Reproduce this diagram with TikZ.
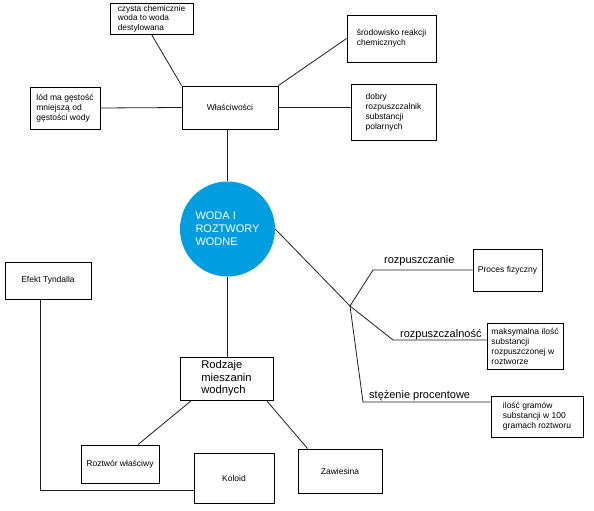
\documentclass[tikz,border=0pt]{standalone}
\usepackage{fontspec}
\setmainfont{Liberation Sans}
\usetikzlibrary{positioning, calc}
\definecolor{wodablue}{RGB}{0,157,224}
\definecolor{linegray}{RGB}{30,30,30}
\tikzset{
  box/.style={rectangle, draw=black, fill=white, line width=0.9pt,
    align=left, inner sep=1pt, font=\fontsize{8.5}{10}\selectfont},
  bigbox/.style={box, font=\fontsize{11.2}{12.5}\selectfont},
  hub/.style={circle, fill=wodablue, text=white, minimum size=95pt,
    inner sep=0pt, align=left, font=\fontsize{11}{13}\selectfont},
  conn/.style={line width=0.8pt, color=linegray},
  lbl/.style={anchor=base west, inner sep=0pt, font=\fontsize{11}{13}\selectfont}
}

\begin{document}
\begin{tikzpicture}[x=1pt, y=-1pt]
  \useasboundingbox (0,0) rectangle (594,511);

  % Centre
  \node[hub] (woda) at (227.5,229) {WODA I\\ROZTWORY\\WODNE};

  % Properties branch
  \node[box, minimum width=96pt, minimum height=43pt] (wlasc) at (230,107.5) {Właściwości};
  \node[box, minimum width=83pt, minimum height=31pt, inner sep=0pt,
    font=\fontsize{8.3}{9.4}\selectfont] (czysta) at (151.5,18.5) {czysta chemicznie\\woda to woda\\destylowana};
  \node[box, minimum width=70pt, minimum height=42pt] (lod) at (65,108) {lód ma gęstość\\mniejszą od\\gęstości wody};
  \node[box, minimum width=89pt, minimum height=47pt] (srod) at (391.5,38.5) {środowisko reakcji\\chemicznych};
  \node[box, minimum width=85pt, minimum height=56pt] (dobry) at (393.5,112) {dobry\\rozpuszczalnik\\substancji\\polarnych};

  % Solution branch
  \coordinate (junc) at (350,306);
  \coordinate (b1) at (373,270);
  \coordinate (b2) at (393,340);
  \coordinate (b3) at (363,402);
  \node[box, minimum width=69pt, minimum height=42pt] (proces) at (507.5,270) {Proces fizyczny};
  \node[box, minimum width=76pt, minimum height=46pt] (maks) at (525,346) {maksymalna ilość\\substancji\\rozpuszczonej w\\roztworze};
  \node[box, minimum width=92pt, minimum height=41pt] (ilosc) at (537,416.5) {ilość gramów\\substancji w 100\\gramach roztworu};
  \node[lbl] (lrozp) at (384,263) {rozpuszczanie};
  \node[lbl] (lrozpal) at (400,337) {rozpuszczalność};
  \node[lbl] (lstez) at (369,398) {stężenie procentowe};

  % Mixtures branch
  \node[bigbox, minimum width=93pt, minimum height=43pt] (rodz) at (226.5,378.5) {Rodzaje\\mieszanin\\wodnych};
  \node[box, minimum width=78pt, minimum height=38pt] (roztw) at (120,464) {Roztwór właściwy};
  \node[box, minimum width=80pt, minimum height=50pt] (koloid) at (234,478) {Koloid};
  \node[box, minimum width=84pt, minimum height=44pt] (zaw) at (340,471) {Zawiesina};
  \node[box, minimum width=86pt, minimum height=37pt] (efekt) at (48,280.5) {Efekt Tyndalla};

  % Connect lines
  \draw[conn] (czysta.south) -- (wlasc.north west);
  \draw[conn] (lod.east) -- (wlasc.west);
  \draw[conn] (wlasc.north east) -- (srod.west);
  \draw[conn] (wlasc.east) -- (wlasc.east -| dobry.west);
  \draw[conn] (woda.north |- wlasc.south) -- (woda.north);

  \draw[conn] (woda.east) -- (junc);
  \draw[conn] (junc) -- (b1) -- (proces.west);
  \draw[conn] (junc) -- (b2) -- (b2 -| maks.west);
  \draw[conn] (junc) -- (b3) -- (b3 -| ilosc.west);

  \draw[conn] (woda.south) -- (woda.south |- rodz.north);
  \draw[conn] ($(rodz.south west)+(12,0)$) -- ($(roztw.north)+(18,0)$);
  \draw[conn] ($(koloid.north)+(-5,0)$) -- ($(koloid.north)+(-5,0)$ |- rodz.south);
  \draw[conn] ($(rodz.south east)+(-7,0)$) -- ($(zaw.north west)+(10,0)$);
  \draw[conn] ($(efekt.south)+(-8,0)$) |- ($(koloid.south west)+(0,-13)$);
\end{tikzpicture}
\end{document}
